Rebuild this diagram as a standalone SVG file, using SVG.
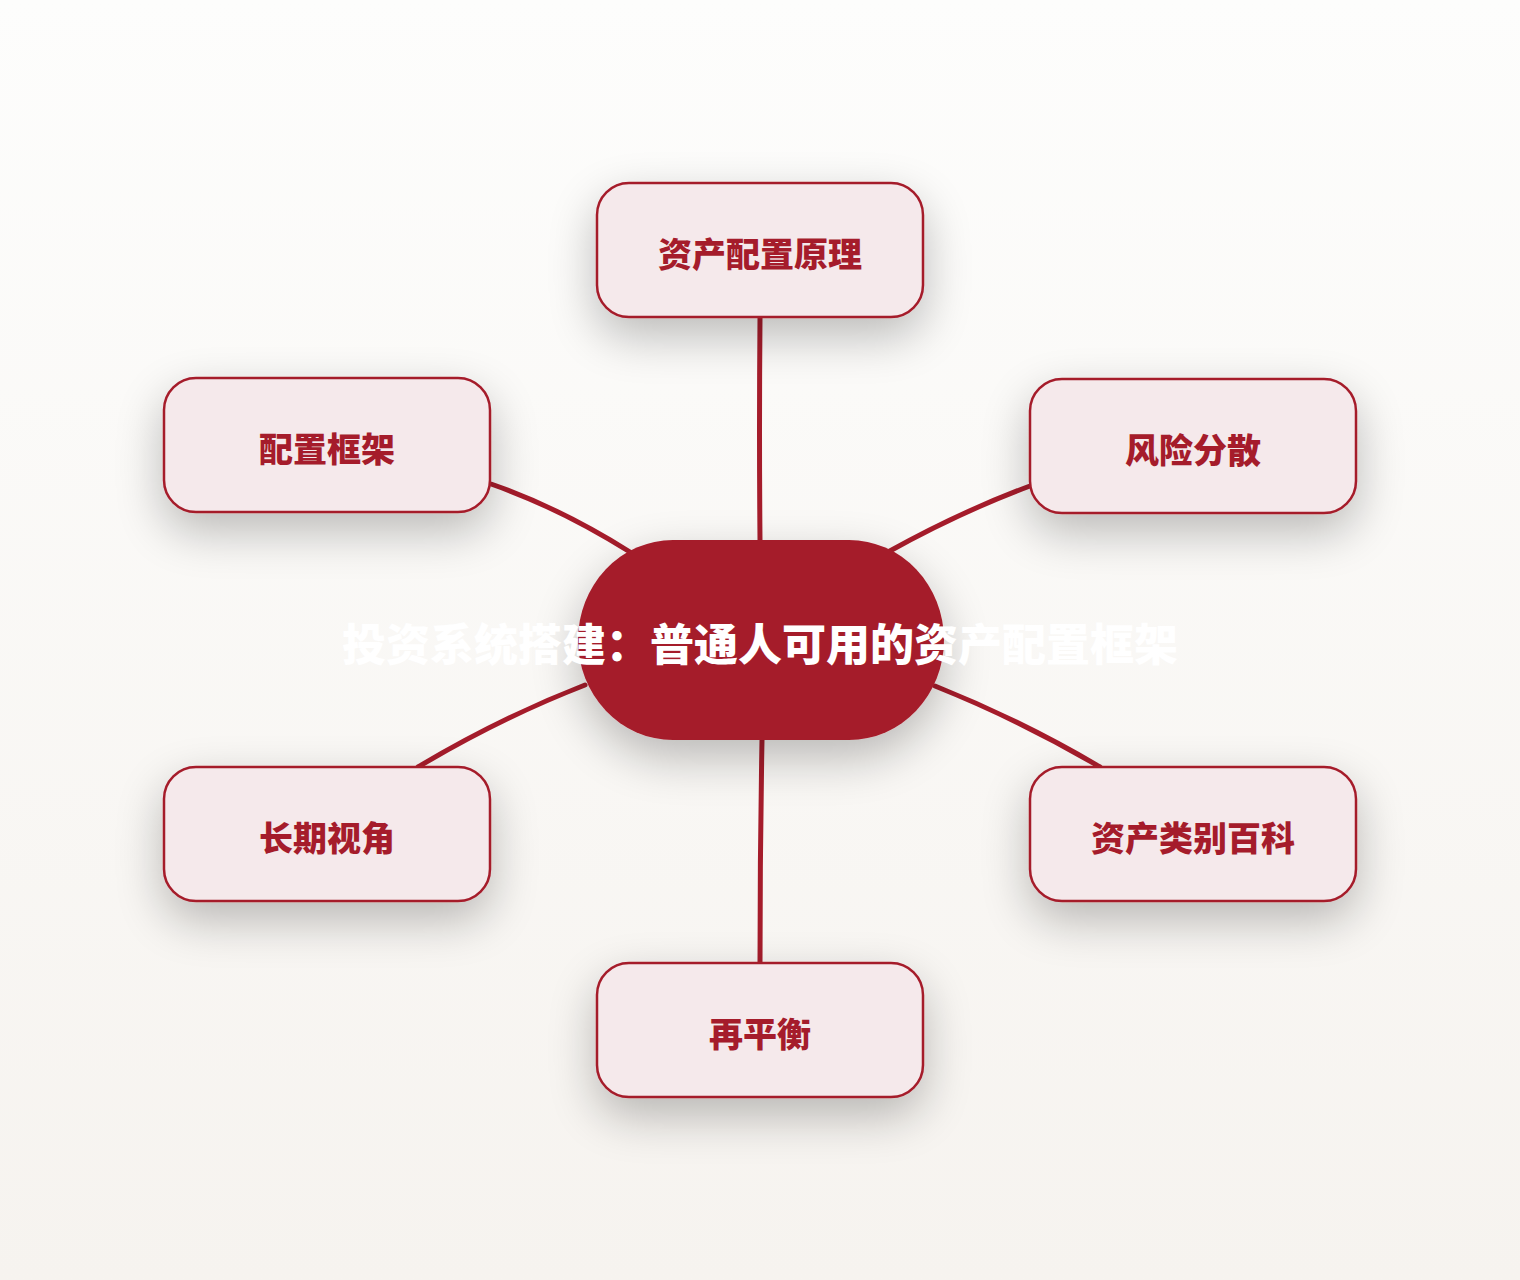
<svg xmlns="http://www.w3.org/2000/svg" width="1520" height="1280" viewBox="0 0 1520 1280">
<defs>
<linearGradient id="bg" x1="0" y1="0" x2="0" y2="1">
<stop offset="0" stop-color="#fdfdfc"/>
<stop offset="1" stop-color="#f6f3ef"/>
</linearGradient>
<filter id="sh" x="-40%" y="-40%" width="180%" height="200%">
<feGaussianBlur in="SourceAlpha" stdDeviation="24"/>
<feOffset dx="0" dy="18" result="b"/>
<feComponentTransfer><feFuncA type="linear" slope="0.26"/></feComponentTransfer>
<feMerge><feMergeNode/><feMergeNode in="SourceGraphic"/></feMerge>
</filter>
<style>
.node rect{fill:#f5e9eb;stroke:#a51c2b;stroke-width:2.5}
.node text{fill:#a51c2b;font-family:"Noto Sans CJK SC","Noto Sans",sans-serif;font-weight:900;font-size:34px;text-anchor:middle;dominant-baseline:central}
.edge{fill:none;stroke:#a51c2b;stroke-width:5;stroke-linecap:round}
.hub rect{fill:#a51c2b}
.hub text{fill:#ffffff;font-family:"Noto Sans CJK SC","Noto Sans",sans-serif;font-weight:900;font-size:44px;text-anchor:middle;dominant-baseline:central}
</style>
</defs>
<rect width="1520" height="1280" fill="url(#bg)"/>
<g id="connectors">
<path class="edge" d="M760 318 Q759 430 760 540"/>
<path class="edge" d="M491 484 Q560 508 630 552"/>
<path class="edge" d="M1030 486 Q960 512 888 552"/>
<path class="edge" d="M585 685 Q500 718 418 767"/>
<path class="edge" d="M935 686 Q1020 720 1100 767"/>
<path class="edge" d="M762 740 Q760 850 760 963"/>
</g>
<g id="hub" class="hub">
<rect x="578" y="540" width="366" height="200" rx="95" ry="100" filter="url(#sh)"/>
<text x="760" y="642">投资系统搭建：普通人可用的资产配置框架</text>
</g>
<g id="n1" class="node">
<rect x="597" y="183" width="326" height="134" rx="32" filter="url(#sh)"/>
<text x="760" y="252">资产配置原理</text>
</g>
<g id="n2" class="node">
<rect x="164" y="378" width="326" height="134" rx="32" filter="url(#sh)"/>
<text x="327" y="447">配置框架</text>
</g>
<g id="n3" class="node">
<rect x="1030" y="379" width="326" height="134" rx="32" filter="url(#sh)"/>
<text x="1193" y="448">风险分散</text>
</g>
<g id="n4" class="node">
<rect x="164" y="767" width="326" height="134" rx="32" filter="url(#sh)"/>
<text x="327" y="836">长期视角</text>
</g>
<g id="n5" class="node">
<rect x="1030" y="767" width="326" height="134" rx="32" filter="url(#sh)"/>
<text x="1193" y="836">资产类别百科</text>
</g>
<g id="n6" class="node">
<rect x="597" y="963" width="326" height="134" rx="32" filter="url(#sh)"/>
<text x="760" y="1032">再平衡</text>
</g>
</svg>
